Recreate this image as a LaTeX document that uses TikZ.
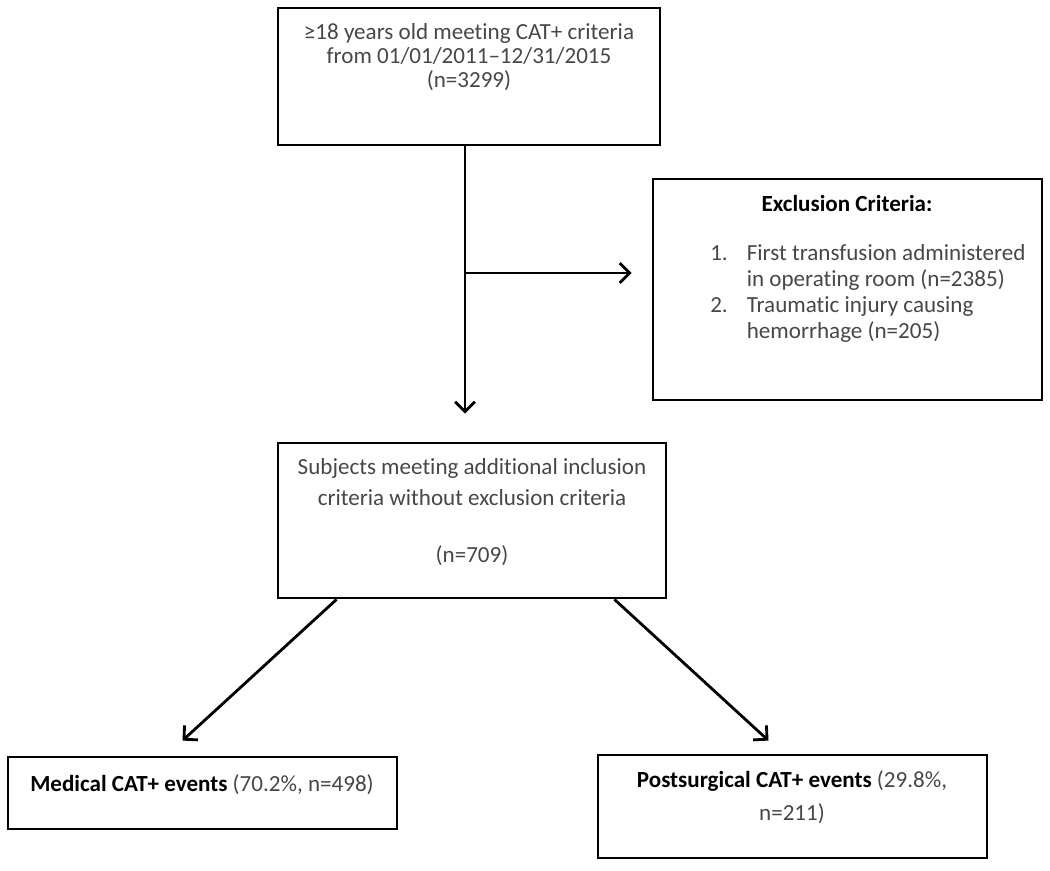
\documentclass[tikz,border=0pt]{standalone}
\usepackage{fontspec}
\setmainfont{Carlito}[Ligatures=NoCommon]
\usetikzlibrary{arrows.meta,calc}
\definecolor{txtgray}{HTML}{474747}
\tikzset{
  box/.style={draw, line width=2pt, inner sep=0pt},
  arr/.style={line width=2pt, -{Straight Barb[length=7pt,width=14pt,line width=2pt]}},
  txt/.style={font=\fontsize{16.4}{17}\selectfont, text=txtgray, align=center, inner sep=0pt}
}
\begin{document}
\begin{tikzpicture}[x=0.025cm,y=-0.025cm]
\useasboundingbox (0,0) rectangle (1050,870);
%boxes
\node[box, minimum width=9.55cm, minimum height=3.425cm] (top) at (469,76.5) {};
\node[box, minimum width=9.725cm, minimum height=5.525cm] (excl) at (847.5,289.5) {};
\node[box, minimum width=9.7cm, minimum height=3.875cm] (mid) at (472,520.5) {};
\node[box, minimum width=9.725cm, minimum height=1.8cm] (med) at (202.5,793) {};
\node[box, minimum width=9.725cm, minimum height=2.575cm] (post) at (792.5,806.5) {};
%texts
\node[txt] (toptxt) at (469,57) {≥18 years old meeting CAT+ criteria\\from 01/01/2011–12/31/2015\\(n=3299)};
\node[txt, text=black, font=\fontsize{16.4}{17}\selectfont\bfseries] (excltitle) at (847,203) {Exclusion Criteria:};
\node[txt, anchor=north west, align=left, font=\fontsize{16.4}{18.5}\selectfont] (excllist) at (710,242) {%
  \begin{tabular}{@{}p{26pt}@{}l@{}}
  1. & First transfusion administered\\
     & in operating room (n=2385)\\
  2. & Traumatic injury causing\\
     & hemorrhage (n=205)
  \end{tabular}};
\node[txt, font=\fontsize{16.4}{22}\selectfont] (midtxt) at (472,512) {Subjects meeting additional inclusion\\criteria without exclusion criteria\\[18.5pt](n=709)};
\node[txt, anchor=west] (medtxt) at (30,785) {\textcolor{black}{\bfseries Medical CAT+ events} (70.2\%, n=498)};
\node[txt, font=\fontsize{16.4}{23.5}\selectfont] (posttxt) at (792,797) {\textcolor{black}{\bfseries Postsurgical CAT+ events} (29.8\%,\\n=211)};
%arrows
\coordinate (split) at (465,273);
\coordinate (medtip) at ($(med.north)+(-20,-15)$);
\coordinate (posttip) at ($(post.north)+(-24,-13)$);
\draw[arr, shorten >=0.7cm] (top.south -| split) -- (mid.north -| split);
\draw[arr, shorten >=0.5cm] (split) -- (split -| excl.west);
\draw[arr] ($(mid.south west)+(60,0)$) -- (medtip);
\draw[arr] ($(mid.south east)+(-53,0)$) -- (posttip);
\end{tikzpicture}
\end{document}
